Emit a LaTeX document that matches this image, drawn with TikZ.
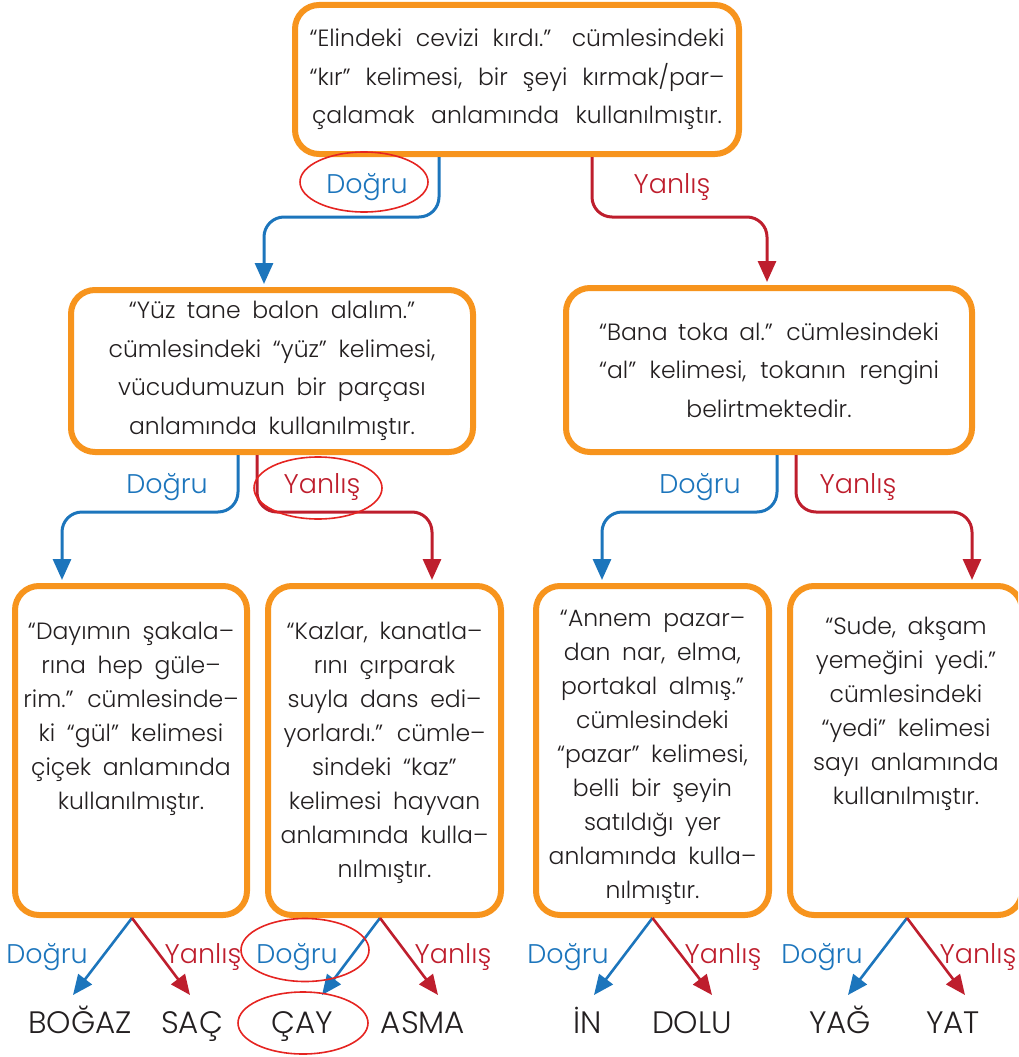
\documentclass[tikz,border=0pt]{standalone}
\usepackage{fontspec}
\setmainfont{Poppins}[UprightFont={* Light}, WordSpace=1.8]
\usetikzlibrary{arrows.meta,shapes.geometric}
\definecolor{obox}{HTML}{F7941D}
\definecolor{dblue}{HTML}{1C75BC}
\definecolor{yred}{HTML}{BE1E2D}
\definecolor{ered}{HTML}{E52421}
\definecolor{txt}{HTML}{231F20}
\newcommand{\jl}[2]{\makebox[#1][s]{#2}}
\begin{document}
\begin{tikzpicture}[x=1pt,y=-1pt,
  box/.style={draw=obox, line width=6pt, rounded corners=24pt, fill=white, inner sep=0pt},
  btxt/.style={text=txt, align=center, font=\fontsize{23.5}{38.5}\selectfont},
  stxt/.style={text=txt, align=center, font=\fontsize{23.5}{34}\selectfont, inner sep=0pt, anchor=north},
  bline/.style={draw=dblue, line width=3pt, rounded corners=20pt, shorten >=3pt, -{Triangle[length=21pt,width=18pt]}},
  rline/.style={draw=yred, line width=3pt, rounded corners=20pt, shorten >=3pt, -{Triangle[length=21pt,width=18pt]}},
  bdiag/.style={draw=dblue, line width=2.6pt, -{Triangle[length=20pt,width=17pt]}},
  rdiag/.style={draw=yred, line width=2.6pt, -{Triangle[length=20pt,width=17pt]}},
  dlbl/.style={text=dblue, font=\fontsize{27}{30}\selectfont, inner sep=0pt, anchor=base},
  ylbl/.style={text=yred, font=\fontsize{27}{30}\selectfont, inner sep=0pt, anchor=base},
  word/.style={text=txt, font=\fontsize{31}{34}\selectfont, inner sep=0pt, anchor=base},
  ering/.style={draw=ered, line width=1.6pt, ellipse, inner sep=0pt}
]
\useasboundingbox (0,0) rectangle (1018,1057);
\clip (0,0) rectangle (1018,1057);

% boxes
\node[box, btxt, minimum width=444pt, minimum height=149pt] (top) at (517,79.5)
  {\jl{415pt}{“Elindeki cevizi kırdı.” cümlesindeki}\\
   \jl{415pt}{“kır” kelimesi, bir şeyi kırmak/par–}\\
   \jl{410pt}{çalamak anlamında kullanılmıştır.}};
\node[box, btxt, minimum width=402pt, minimum height=162pt] (ml) at (272,371)
  {“Yüz tane balon alalım.”\\ cümlesindeki “yüz” kelimesi,\\ vücudumuzun bir parçası\\ anlamında kullanılmıştır.};
\node[box, btxt, minimum width=406pt, minimum height=164pt] (mr) at (769,370)
  {\jl{340pt}{“Bana toka al.” cümlesindeki}\\ \jl{340pt}{“al” kelimesi, tokanın rengini}\\ belirtmektedir.};
\node[box, minimum width=232pt, minimum height=329pt] (b1) at (131,750.5) {};
\node[box, minimum width=233pt, minimum height=329pt] (b2) at (384.5,750.5) {};
\node[box, minimum width=233pt, minimum height=329pt] (b3) at (652.5,750.5) {};
\node[box, minimum width=232pt, minimum height=329pt] (b4) at (906,750.5) {};

\node[stxt] (t1) at (131,622) {“Dayımın şakala–\\ rına hep güle–\\ rim.” cümlesinde–\\ ki “gül” kelimesi\\ çiçek anlamında\\ kullanılmıştır.};
\node[stxt] (t2) at (384.5,622) {“Kazlar, kanatla–\\ rını çırparak\\ suyla dans edi–\\ yorlardı.” cümle–\\ sindeki “kaz”\\ kelimesi hayvan\\ anlamında kulla–\\ nılmıştır.};
\node[stxt] (t3) at (652.5,610) {“Annem pazar–\\ dan nar, elma,\\ portakal almış.”\\ cümlesindeki\\ “pazar” kelimesi,\\ belli bir şeyin\\ satıldığı yer\\ anlamında kulla–\\ nılmıştır.};
\node[stxt] (t4) at (906,617) {“Sude, akşam\\ yemeğini yedi.”\\ cümlesindeki\\ “yedi” kelimesi\\ sayı anlamında\\ kullanılmıştır.};

% elbow connectors
\draw[bline] ([xshift=-78pt]top.south) -- ++(0,60) -| ([xshift=-8pt]ml.north);
\draw[rline] ([xshift=75pt]top.south) -- ++(0,60) -| ([xshift=-2pt]mr.north);
\draw[bline] ([xshift=-34pt]ml.south) -- ++(0,57) -| ([xshift=-69pt]b1.north);
\draw[rline] ([xshift=-15pt]ml.south) -- ++(0,57) -| ([xshift=47.5pt]b2.north);
\draw[bline] ([xshift=8pt]mr.south) -- ++(0,57) -| ([xshift=-50.5pt]b3.north);
\draw[rline] ([xshift=27pt]mr.south) -- ++(0,57) -| ([xshift=66pt]b4.north);

% labels
\node[dlbl] (l1) at (367,193) {Doğru};
\node[ylbl] (l2) at (672,193) {Yanlış};
\node[dlbl] (l3) at (167,493) {Doğru};
\node[ylbl] (l4) at (322,493) {Yanlış};
\node[dlbl] (l5) at (700,493) {Doğru};
\node[ylbl] (l6) at (858,493) {Yanlış};

% words
\node[word] (w1) at (80,1033) {BOĞAZ};
\node[word] (w2) at (192,1033) {SAÇ};
\node[word] (w3) at (302,1033) {ÇAY};
\node[word] (w4) at (423,1033) {ASMA};
\node[word] (w5) at (588,1033) {İN};
\node[word] (w6) at (692,1033) {DOLU};
\node[word] (w7) at (840,1033) {YAĞ};
\node[word] (w8) at (953,1033) {YAT};

% arrow tips above words
\coordinate (p1) at (73,995);
\coordinate (p2) at (190,995);
\coordinate (p3) at (322,995);
\coordinate (p4) at (438,995);
\coordinate (p5) at (594,995);
\coordinate (p6) at (712,995);
\coordinate (p7) at (848,995);
\coordinate (p8) at (965,995);

\draw[bdiag] ([xshift=1pt]b1.south) -- (p1);
\draw[rdiag] ([xshift=1pt]b1.south) -- (p2);
\draw[bdiag] ([xshift=-4.5pt]b2.south) -- (p3);
\draw[rdiag] ([xshift=-4.5pt]b2.south) -- (p4);
\draw[bdiag] (b3.south) -- (p5);
\draw[rdiag] (b3.south) -- (p6);
\draw[bdiag] ([xshift=1pt]b4.south) -- (p7);
\draw[rdiag] ([xshift=1pt]b4.south) -- (p8);

\node[dlbl] (l7) at (47,963) {Doğru};
\node[ylbl] (l8) at (203,963) {Yanlış};
\node[dlbl] (l9) at (297,963) {Doğru};
\node[ylbl] (l10) at (453,963) {Yanlış};
\node[dlbl] (l11) at (568,963) {Doğru};
\node[ylbl] (l12) at (723,963) {Yanlış};
\node[dlbl] (l13) at (822,963) {Doğru};
\node[ylbl] (l14) at (978,963) {Yanlış};

% red ellipses
\node[ering, minimum width=128pt, minimum height=60pt] (e1) at (364,182) {};
\node[ering, minimum width=128pt, minimum height=62pt] (e2) at (318,488) {};
\node[ering, minimum width=128pt, minimum height=63pt] (e3) at (305,950) {};
\node[ering, minimum width=130pt, minimum height=62pt] (e4) at (303,1023) {};
\end{tikzpicture}
\end{document}
